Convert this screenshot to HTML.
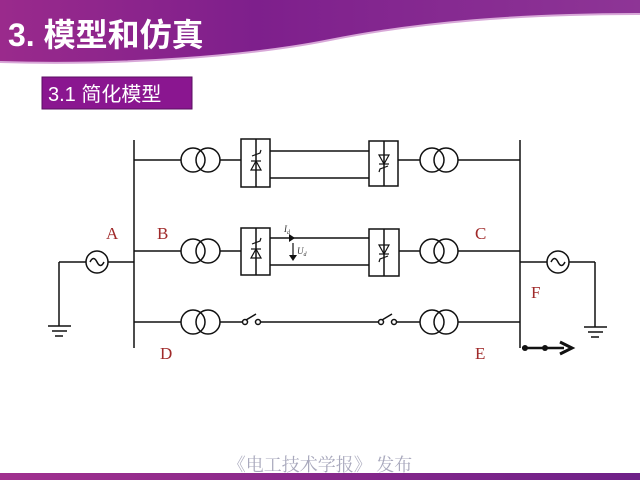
<!DOCTYPE html>
<html><head><meta charset="utf-8"><style>
html,body{margin:0;padding:0;}
body{width:640px;height:480px;overflow:hidden;background:#fff;position:relative;font-family:"Liberation Sans","Noto Sans CJK SC",sans-serif;}
</style></head><body>
<svg width="640" height="480" viewBox="0 0 640 480" style="position:absolute;left:0;top:0">
<defs>
<linearGradient id="hg" x1="0" y1="0" x2="1" y2="0">
<stop offset="0" stop-color="#9a2a8c"/><stop offset="0.4" stop-color="#7e1f8c"/><stop offset="1" stop-color="#8e3596"/>
</linearGradient>
<linearGradient id="bg" x1="0" y1="0" x2="1" y2="0">
<stop offset="0" stop-color="#a0308e"/><stop offset="1" stop-color="#6e2088"/>
</linearGradient>
</defs>
<path d="M0,0 H640 V14 C520,14 420,22 330,40 C250,56 120,66 0,62 Z" fill="url(#hg)"/>
<path d="M0,62 C120,66 250,56 330,40 C420,22 520,14 640,14" fill="none" stroke="#d8a8d8" stroke-width="2"/>
<text x="8" y="46" font-size="32" font-weight="bold" fill="#fff" font-family="Liberation Sans,Noto Sans CJK SC,sans-serif">3. 模型和仿真</text>
<rect x="42" y="77" width="150" height="32" fill="#8a1690" stroke="#5a0e60" stroke-width="1"/>
<text x="48" y="101" font-size="20" fill="#fff" font-family="Liberation Sans,Noto Sans CJK SC,sans-serif">3.1 简化模型</text>
<rect x="0" y="473" width="640" height="7" fill="url(#bg)"/>
<text x="320" y="471" font-size="18" fill="#a8a8bc" text-anchor="middle" font-family="Liberation Serif,Noto Serif CJK SC,serif">《电工技术学报》 发布</text>

<g stroke="#111" stroke-width="1.5" fill="none">
<line x1="134" y1="140" x2="134" y2="348"/>
<line x1="520" y1="140" x2="520" y2="348"/>
<line x1="134" y1="160" x2="181" y2="160"/>
<circle cx="193" cy="160" r="12"/><circle cx="208" cy="160" r="12"/>
<line x1="220" y1="160" x2="241" y2="160"/>
<rect x="241" y="139" width="29" height="48"/><line x1="256" y1="139" x2="256" y2="187"/>
<line x1="270" y1="151" x2="369" y2="151"/><line x1="270" y1="178" x2="369" y2="178"/>
<rect x="369" y="141" width="29" height="45"/><line x1="384" y1="141" x2="384" y2="186"/>
<line x1="398" y1="160" x2="420" y2="160"/>
<circle cx="432" cy="160" r="12"/><circle cx="446" cy="160" r="12"/>
<line x1="458" y1="160" x2="520" y2="160"/>
<line x1="134" y1="251" x2="181" y2="251"/>
<circle cx="193" cy="251" r="12"/><circle cx="208" cy="251" r="12"/>
<line x1="220" y1="251" x2="241" y2="251"/>
<rect x="241" y="228" width="29" height="47"/><line x1="256" y1="228" x2="256" y2="275"/>
<line x1="270" y1="238" x2="369" y2="238"/><line x1="270" y1="265" x2="369" y2="265"/>
<rect x="369" y="229" width="30" height="47"/><line x1="384" y1="229" x2="384" y2="276"/>
<line x1="399" y1="251" x2="420" y2="251"/>
<circle cx="432" cy="251" r="12"/><circle cx="446" cy="251" r="12"/>
<line x1="458" y1="251" x2="520" y2="251"/>
<line x1="134" y1="322" x2="181" y2="322"/>
<circle cx="193" cy="322" r="12"/><circle cx="208" cy="322" r="12"/>
<line x1="220" y1="322" x2="243" y2="322"/>
<circle cx="245" cy="322" r="2.5"/><circle cx="258" cy="322" r="2.5"/>
<line x1="246" y1="320" x2="256" y2="314"/>
<line x1="261" y1="322" x2="379" y2="322"/>
<circle cx="381" cy="322" r="2.5"/><circle cx="394" cy="322" r="2.5"/>
<line x1="382" y1="320" x2="392" y2="314"/>
<line x1="397" y1="322" x2="420" y2="322"/>
<circle cx="432" cy="322" r="12"/><circle cx="446" cy="322" r="12"/>
<line x1="458" y1="322" x2="520" y2="322"/>
<line x1="59" y1="262" x2="86" y2="262"/><line x1="108" y1="262" x2="134" y2="262"/>
<circle cx="97" cy="262" r="11"/>
<path d="M90,262 Q93.5,255 97,262 T104,262"/>
<line x1="59" y1="262" x2="59" y2="326"/>
<line x1="48" y1="326" x2="71" y2="326"/><line x1="52" y1="331" x2="67" y2="331"/><line x1="55" y1="336" x2="63" y2="336"/>
<line x1="520" y1="262" x2="547" y2="262"/><line x1="569" y1="262" x2="595" y2="262"/>
<circle cx="558" cy="262" r="11"/>
<path d="M551,262 Q554.5,255 558,262 T565,262"/>
<line x1="595" y1="262" x2="595" y2="327"/>
<line x1="584" y1="327" x2="607" y2="327"/><line x1="588" y1="332" x2="603" y2="332"/><line x1="591" y1="337" x2="599" y2="337"/>
</g>
<g stroke="#111" stroke-width="1.2" fill="none">
<path d="M251,170 L261,170 L256,161 Z"/><line x1="251" y1="161" x2="261" y2="161"/><path d="M252,156 L260,153 L261,150"/>
<path d="M251,258 L261,258 L256,249 Z"/><line x1="251" y1="249" x2="261" y2="249"/><path d="M252,244 L260,241 L261,238"/>
<path d="M379,155 L389,155 L384,164 Z"/><line x1="379" y1="164" x2="389" y2="164"/><path d="M388,166 L380,169 L379,172"/>
<path d="M379,245 L389,245 L384,254 Z"/><line x1="379" y1="254" x2="389" y2="254"/><path d="M388,256 L380,259 L379,262"/>
<line x1="293" y1="243" x2="293" y2="258"/>
</g>
<path d="M289,255 L297,255 L293,261 Z" fill="#111"/>
<path d="M289,234 L295,238 L289,242 Z" fill="#111"/>
<text x="284" y="232" font-size="9" font-style="italic" fill="#333" font-family="Liberation Serif,serif">I<tspan font-size="6" dy="2">d</tspan></text>
<text x="297" y="254" font-size="9" font-style="italic" fill="#333" font-family="Liberation Serif,serif">U<tspan font-size="6" dy="2">d</tspan></text>
<line x1="522" y1="348" x2="564" y2="348" stroke="#111" stroke-width="2.5"/>
<circle cx="525" cy="348" r="3" fill="#111"/><circle cx="545" cy="348" r="3" fill="#111"/>
<path d="M560,342 L572,348 L560,354" fill="none" stroke="#111" stroke-width="3"/>
<g font-family="Liberation Serif,serif" font-size="17" fill="#a02a2a">
<text x="106" y="239">A</text><text x="157" y="239">B</text><text x="475" y="239">C</text>
<text x="160" y="359">D</text><text x="475" y="359">E</text><text x="531" y="298">F</text>
</g>
</svg>
</body></html>
